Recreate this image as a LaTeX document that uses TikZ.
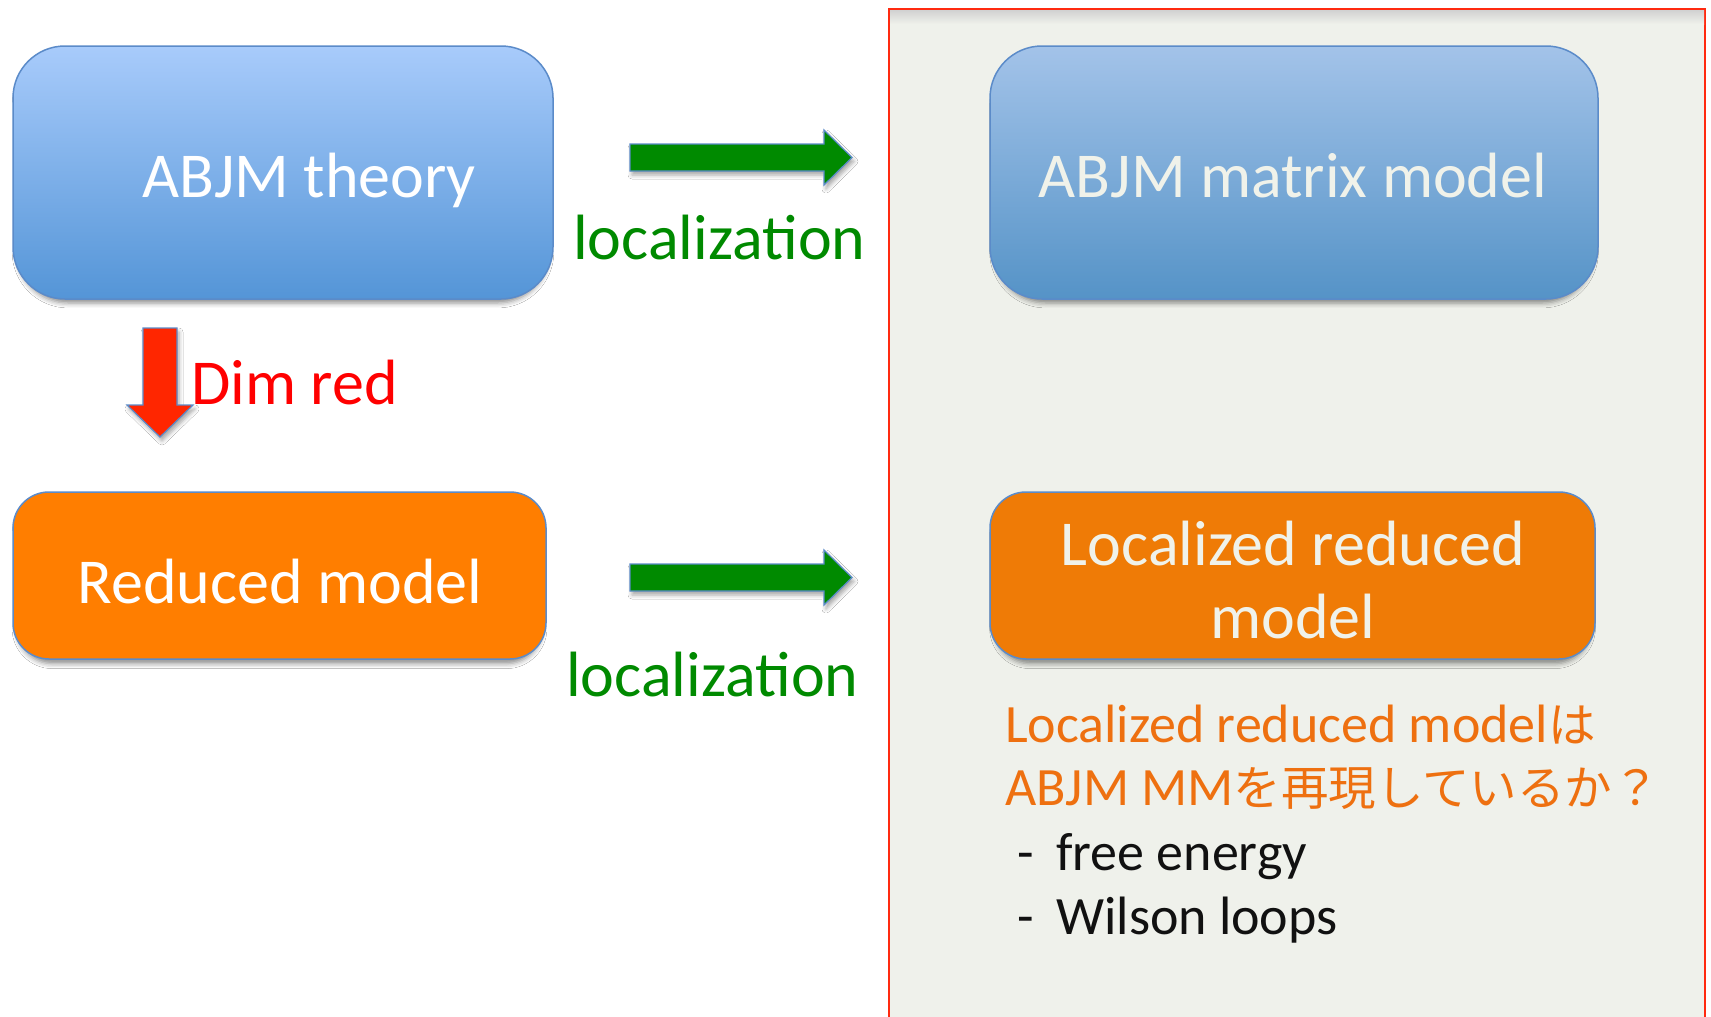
\documentclass[tikz,border=0pt]{standalone}
\usepackage{fontspec}
\setmainfont{Carlito}
\newfontfamily\cjk[Scale=0.88]{Noto Sans CJK JP}
\usetikzlibrary{shadows.blur}
\definecolor{panelbg}{HTML}{EFF1EB}
\definecolor{panelred}{HTML}{FF2A10}
\definecolor{bonetop}{HTML}{A8CBFB}
\definecolor{bonebot}{HTML}{5495D7}
\definecolor{btwotop}{HTML}{A3C3E9}
\definecolor{btwobot}{HTML}{5593C7}
\definecolor{edgeblue}{HTML}{5B8BC9}
\definecolor{orone}{HTML}{FF7E00}
\definecolor{ortwo}{HTML}{EF7B06}
\definecolor{greenarr}{HTML}{008A00}
\definecolor{redarr}{HTML}{FF2600}
\definecolor{ortext}{HTML}{EE7010}
\definecolor{offwhite}{HTML}{F0F2EA}
\definecolor{inktext}{HTML}{111111}
\begin{document}
\begin{tikzpicture}[x=1pt,y=-1pt,
  softshadow/.style={blur shadow={shadow xshift=0pt,shadow yshift=-6pt,shadow scale=0.985,shadow blur radius=5pt,shadow opacity=45}},
  bluebox/.style={draw=edgeblue,line width=1.5pt,rounded corners=52pt,inner sep=0pt,softshadow},
  orangebox/.style={draw=edgeblue,line width=1.5pt,rounded corners=36pt,inner sep=0pt,softshadow},
  bigtext/.style={inner sep=0pt,font=\fontsize{64}{73}\selectfont},
  smalltext/.style={inner sep=0pt,font=\fontsize{54}{62}\selectfont},
  blockarrow/.style={draw=edgeblue,line width=1.2pt,line join=miter,blur shadow={shadow xshift=2pt,shadow yshift=-4pt,shadow blur radius=4pt,shadow opacity=35}}
]
\useasboundingbox (0,0) rectangle (1711,1017);
\fill[white] (0,0) rectangle (1711,1017);
% panel
\filldraw[fill=panelbg,draw=panelred,line width=2pt] (889,9) rectangle (1705,1030);
\shade[top color=black!18,bottom color=panelbg] (890,10) rectangle (1704,24);
% boxes
\node[bluebox,top color=bonetop,bottom color=bonebot,minimum width=540pt,minimum height=253pt] (theory) at (283,172.5) {};
\node[bluebox,top color=btwotop,bottom color=btwobot,minimum width=608pt,minimum height=253pt] (matrix) at (1294,172.5) {};
\node[orangebox,fill=orone,minimum width=533pt,minimum height=167pt] (reduced) at (279.5,575.5) {};
\node[orangebox,fill=ortwo,minimum width=605pt,minimum height=167pt] (locred) at (1292.5,575.5) {};
% box texts
\node[bigtext,white,anchor=base west] (ttheory) at (142,197) {ABJM theory};
\node[bigtext,offwhite,anchor=base] (tmatrix) at (1293,197) {ABJM matrix model};
\node[bigtext,white,anchor=base] (treduced) at (280,603) {Reduced model};
\node[bigtext,offwhite,anchor=base] (tlocA) at (1293,565) {Localized reduced};
\node[bigtext,offwhite,anchor=base] (tlocB) at (1293,638) {model};
% arrows
\filldraw[blockarrow,fill=greenarr] (630,144) -- (824,144) -- (824,130) -- (852,157.5) -- (824,185) -- (824,171) -- (630,171) -- cycle;
\filldraw[blockarrow,fill=greenarr] (630,564) -- (824,564) -- (824,550) -- (852,577.5) -- (824,605) -- (824,591) -- (630,591) -- cycle;
\filldraw[blockarrow,fill=redarr] (143,328) -- (177,328) -- (177,405) -- (193,405) -- (160,437) -- (127,405) -- (143,405) -- cycle;
% labels
\node[bigtext,greenarr,anchor=base west] (locone) at (573,259) {localization};
\node[bigtext,greenarr,anchor=base west] (loctwo) at (566,696) {localization};
\node[bigtext,red,anchor=base west] (dimred) at (191,404) {Dim red};
% question
\node[smalltext,ortext,anchor=base west] (qA) at (1005,742) {Localized reduced model{\cjk は}};
\node[smalltext,ortext,anchor=base west] (qB) at (1005,805) {ABJM MM{\cjk を再現しているか？}};
\node[smalltext,inktext,anchor=base west] (dA) at (1017,870) {-};
\node[smalltext,inktext,anchor=base west] (iA) at (1056,870) {free energy};
\node[smalltext,inktext,anchor=base west] (dB) at (1017,934) {-};
\node[smalltext,inktext,anchor=base west] (iB) at (1056,934) {Wilson loops};
\end{tikzpicture}
\end{document}
